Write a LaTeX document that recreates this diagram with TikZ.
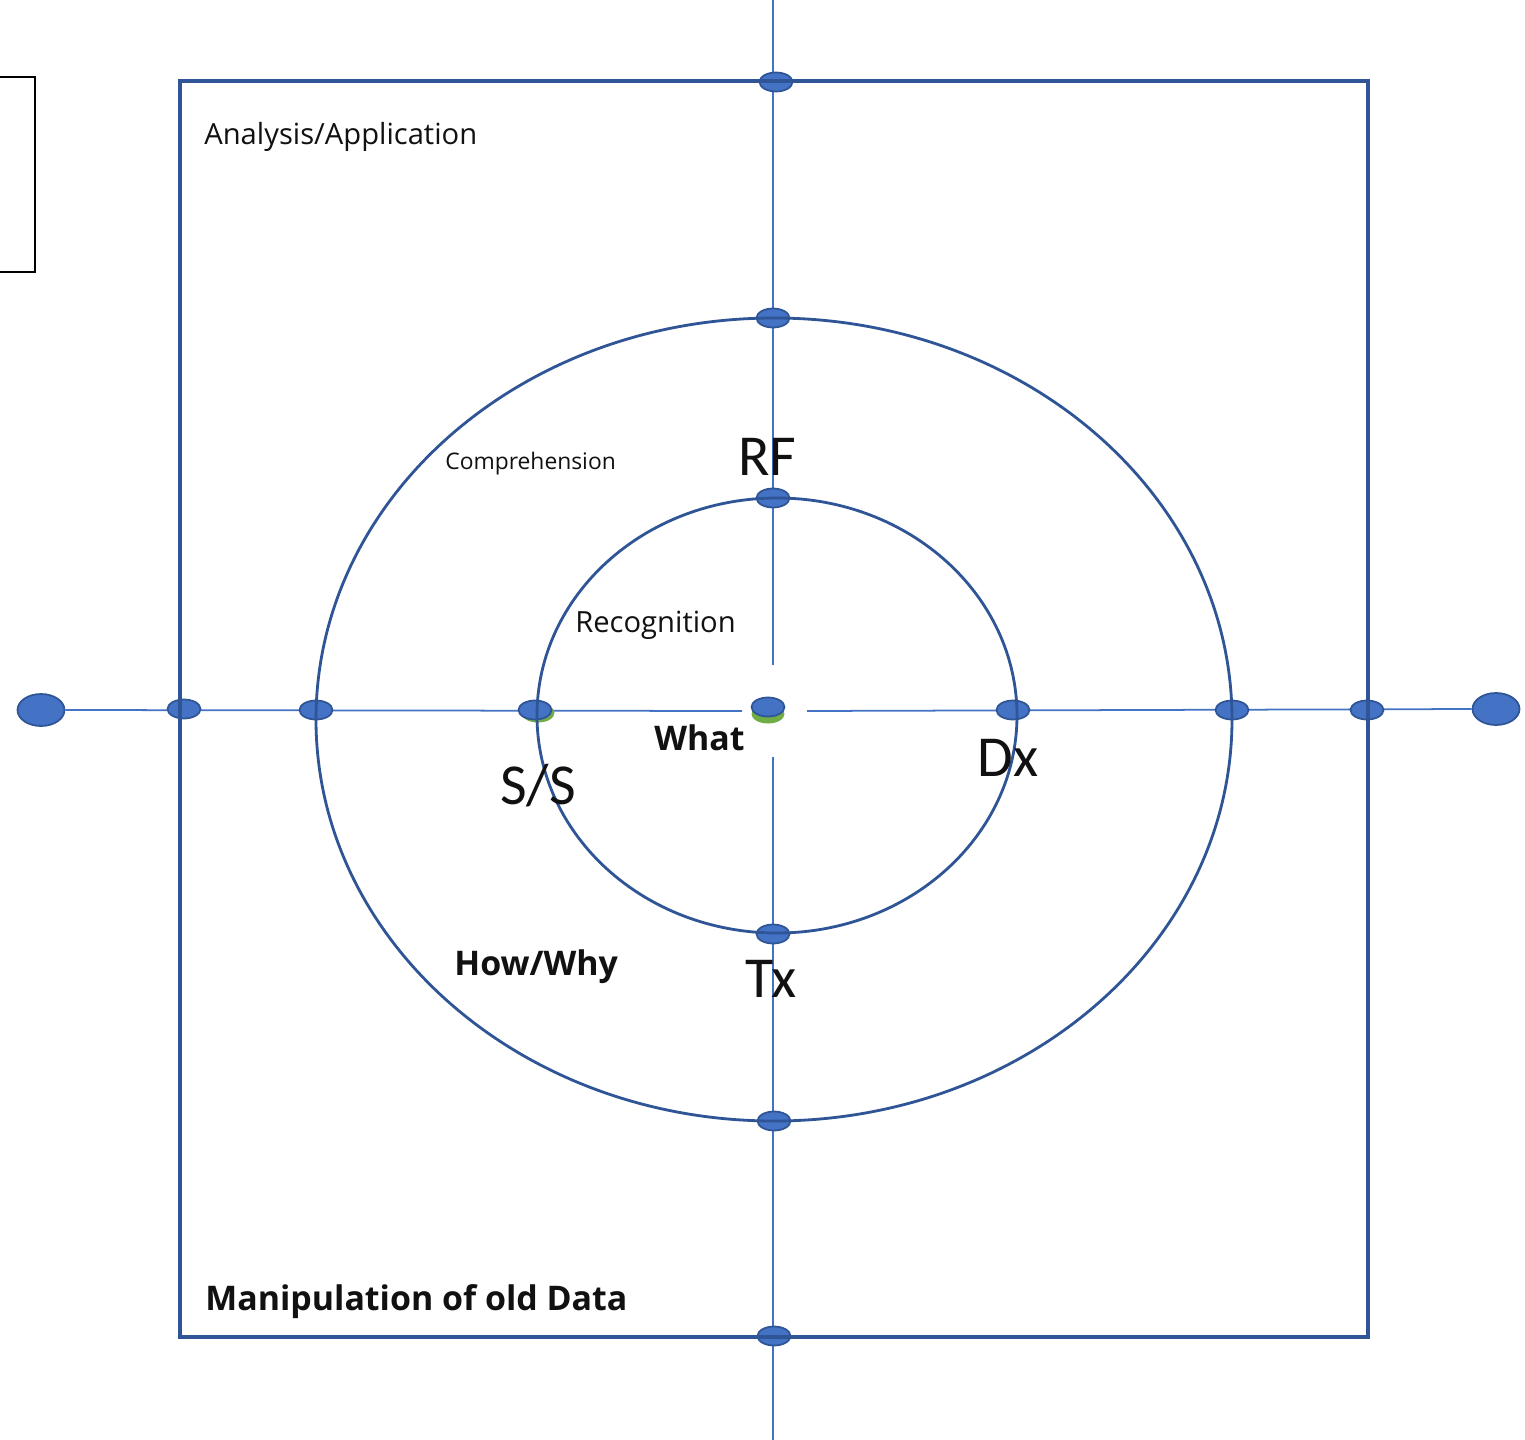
\documentclass[tikz,border=0pt]{standalone}
\usepackage{fontspec}
\setmainfont{Open Sans}
\newfontfamily\calib{Carlito}
\usetikzlibrary{shapes.geometric}
\definecolor{dkblue}{HTML}{2F5597}
\definecolor{ltblue}{HTML}{4472C4}
\definecolor{grn}{HTML}{70AD47}
\definecolor{txt}{HTML}{111111}
\tikzset{
  axis/.style={draw=ltblue, line width=1.0pt},
  ring/.style={draw=dkblue, line width=1.6pt},
  frame/.style={draw=dkblue, line width=1.8pt},
  dot/.style={ellipse, draw=dkblue, fill=ltblue, line width=1.0pt, minimum width=0.66cm, minimum height=0.38cm, inner sep=0pt},
  bigdot/.style={dot, minimum width=0.94cm, minimum height=0.64cm},
  gdot/.style={ellipse, fill=grn, minimum width=0.66cm, minimum height=0.38cm, inner sep=0pt},
  lbl/.style={anchor=base west, inner sep=0pt, text=txt},
  boldlbl/.style={lbl, font=\fontsize{19.3}{23}\selectfont\bfseries},
  big/.style={lbl, font=\calib\fontsize{33}{38}\selectfont},
}
\begin{document}
\begin{tikzpicture}[x=0.02cm,y=-0.02cm]
\useasboundingbox[fill=white] (0,0) rectangle (1525,1440);
% partial black box at top left
\draw[black, line width=1.1pt] (0,77) -- (35,77) -- (35,272) -- (0,272);
% axis coordinates
\coordinate (vtop) at (773,0);
\coordinate (vbot) at (773,1440);
\coordinate (gapT) at (773,665);
\coordinate (gapB) at (773,757);
\coordinate (gapL) at (742,711);
\coordinate (gapR) at (807,711);
% end dots
\node[bigdot] (Lend) at (41,710) {};
\node[bigdot] (Rend) at (1496,709) {};
% axis lines
\draw[axis] (vtop) -- (gapT);
\draw[axis] (gapB) -- (vbot);
\draw[axis] (Lend.east) -- (gapL);
\draw[axis] (gapR) -- (Rend.west);
% green undersides
\node[gdot] (ssg) at (538,713) {};
\node[gdot] (cg) at (768,714) {};
% dots
\node[dot] (topF) at (776,82) {};
\node[dot] (topO) at (773,318) {};
\node[dot] (topI) at (773,498) {};
\node[dot] (cen) at (768,707) {};
\node[dot] (botI) at (773,934) {};
\node[dot] (botO) at (774,1121) {};
\node[dot] (botF) at (774,1336) {};
\node[dot] (lF) at (184,709) {};
\node[dot] (lO) at (316,710) {};
\node[dot] (lI) at (535,710) {};
\node[dot] (rI) at (1013,710) {};
\node[dot] (rO) at (1232,710) {};
\node[dot] (rF) at (1367,710) {};
% rings
\draw[ring] (774,719.5) ellipse [x radius=458, y radius=401.5];
\draw[ring] (777,715.5) ellipse [x radius=240, y radius=217.5];
% frame
\draw[frame] (180,81) rectangle (1368,1337);
% labels
\node[lbl, font=\fontsize{16.6}{20}\selectfont] (tA) at (204,144) {Analysis/Application};
\node[lbl, font=\fontsize{13}{16}\selectfont] (tC) at (445,469) {Comprehension};
\node[lbl, font=\fontsize{16.6}{20}\selectfont] (tR) at (575,632) {Recognition};
\node[big] (tRF) at (738,475) {RF};
\node[boldlbl] (tW) at (654,750) {What};
\node[big] (tSS) at (500,804) {S/S};
\node[big] (tDx) at (977,776) {Dx};
\node[boldlbl] (tH) at (454,975) {How/Why};
\node[big] (tTx) at (745,997) {Tx};
\node[boldlbl] (tM) at (205,1310) {Manipulation of old Data};
\end{tikzpicture}
\end{document}
